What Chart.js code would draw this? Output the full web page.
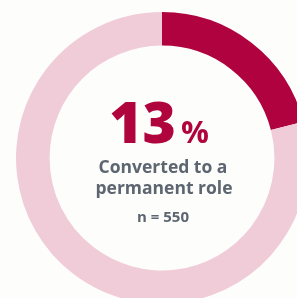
<!DOCTYPE html>
<html>
<head>
<meta charset="utf-8">
<script src="https://cdn.jsdelivr.net/npm/chart.js@4/dist/chart.umd.min.js"></script>
<style>
  html, body { margin: 0; padding: 0; background: #fdfdfc; overflow: hidden; }
  body { width: 297px; height: 298px; position: relative; }
  #wrap { position: absolute; left: 0; top: 0; width: 324px; height: 316px; }
</style>
</head>
<body>
<div id="wrap"><canvas id="ringChart" width="324" height="316"></canvas></div>
<script>
// Ring data (dark arc ends at roughly 75 degrees)
const segmentLabels = ['Converted to a permanent role', 'Other'];
const segmentValues = [21, 79];
const segmentColors = ['#b0023f', '#f0ccd8'];

// Centre text
const headlineValue = '13';
const headlineUnit = '%';
const captionLines = ['Converted to a', 'permanent role'];
const sampleNote = 'n = 550';

const FONT = '"Open Sans"';

const centreText = {
    id: 'centreText',
    afterDraw(chart) {
        const c = chart.ctx;
        const meta = chart.getDatasetMeta(0).data[0];
        const cx = meta.x, cy = meta.y;
        c.save();
        c.textBaseline = 'alphabetic';

        // big number + unit
        c.fillStyle = '#b0043f';
        c.font = `800 57px ${FONT}`;
        const wNum = c.measureText(headlineValue).width;
        c.font = `700 31px ${FONT}`;
        const wUnit = c.measureText(headlineUnit).width;
        const gap = 5;
        let x = cx - 3 - (wNum + gap + wUnit) / 2;
        c.textAlign = 'left';
        c.font = `800 57px ${FONT}`;
        c.fillText(headlineValue, x, cy - 15);
        c.font = `700 31px ${FONT}`;
        c.fillText(headlineUnit, x + wNum + gap, cy - 15);

        // caption
        c.textAlign = 'center';
        c.fillStyle = '#5d6670';
        c.font = `700 17.5px ${FONT}`;
        c.fillText(captionLines[0], cx + 1, cy + 15);
        c.fillText(captionLines[1], cx + 2, cy + 36);
        c.font = `700 15px ${FONT}`;
        c.fillText(sampleNote, cx + 1, cy + 64);
        c.restore();
    }
};

const ctx = document.getElementById('ringChart').getContext('2d');
const ringChart = new Chart(ctx, {
    type: 'doughnut',
    data: {
        labels: segmentLabels,
        datasets: [{
            data: segmentValues,
            backgroundColor: segmentColors,
            borderWidth: 0
        }]
    },
    options: {
        responsive: false,
        animation: false,
        cutout: '77%',
        layout: { padding: 12 },
        plugins: {
            legend: { display: false },
            tooltip: { enabled: false }
        }
    },
    plugins: [centreText]
});
</script>
</body>
</html>
